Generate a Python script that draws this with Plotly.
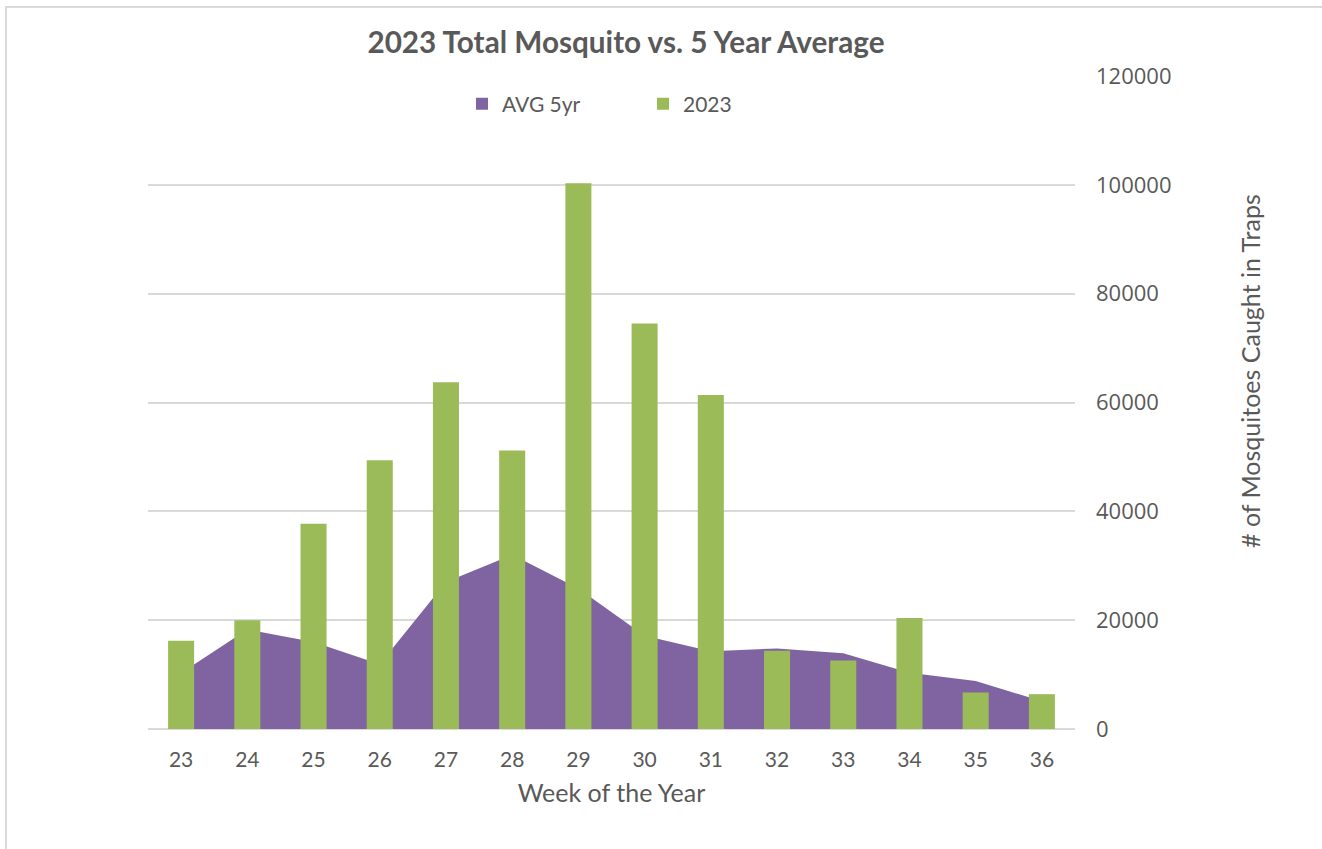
import plotly.graph_objects as go

weeks = ["23", "24", "25", "26", "27", "28", "29", "30", "31", "32", "33", "34", "35", "36"]
avg_5yr = [10300, 18300, 16000, 11900, 27000, 32000, 25800, 17150, 14300, 14800, 13900, 10350, 8800, 5100]
y_2023 = [16200, 20000, 37700, 49400, 63700, 51200, 100300, 74500, 61400, 14400, 12600, 20400, 6700, 6400]
y_ticks = [0, 20000, 40000, 60000, 80000, 100000, 120000]

PURPLE = "#8064A2"
GREEN = "#9BBB59"
TEXT = "#595959"
GRID = "#D9D9D9"
FONT = "Lato"

W, H = 1322, 849
L, R, T, B = 148, 1075, 76, 729


def px(x):
    return (x - L) / (R - L)


def py(y):
    return (B - y) / (B - T)


fig = go.Figure()
fig.add_trace(go.Scatter(
    x=weeks, y=avg_5yr, mode="lines", fill="tozeroy",
    line=dict(color=PURPLE, width=0), fillcolor=PURPLE,
    showlegend=False, zorder=0, hoverinfo="x+y", name="AVG 5yr"))
fig.add_trace(go.Bar(
    x=weeks, y=y_2023, marker=dict(color=GREEN, line=dict(width=0)),
    showlegend=False, zorder=1, name="2023"))
# legend entries
fig.add_trace(go.Scatter(x=[None], y=[None], mode="markers", name="AVG 5yr",
                         marker=dict(symbol="square", size=13, color=PURPLE)))
fig.add_trace(go.Scatter(x=[None], y=[None], mode="markers", name="2023",
                         marker=dict(symbol="square", size=13, color=GREEN)))

fig.update_layout(
    width=W, height=H,
    margin=dict(l=L, r=W - R, t=T, b=H - B),
    paper_bgcolor="white", plot_bgcolor="white",
    font=dict(family=FONT, color=TEXT, size=21),
    bargap=0.607,
    title=dict(text="<b>2023 Total Mosquito vs. 5 Year Average</b>",
               x=626 / W, xanchor="center", y=1 - 43 / H, yanchor="middle",
               font=dict(size=29.7, color=TEXT, family=FONT)),
    legend=dict(orientation="h", x=px(462), xanchor="left", y=py(104), yanchor="middle",
                entrywidth=136, entrywidthmode="pixels", itemsizing="constant",
                font=dict(size=21, color=TEXT), bgcolor="rgba(0,0,0,0)"),
    xaxis=dict(type="category", showgrid=False, showline=False, ticks="",
               tickfont=dict(size=21, color=TEXT), ticklabelstandoff=16,
               title=dict(text="Week of the Year", font=dict(size=25, color=TEXT), standoff=14)),
    yaxis=dict(side="right", range=[0, 120000], tickvals=y_ticks, tickformat="d",
               showgrid=True, gridcolor=GRID, gridwidth=2, zeroline=True,
               zerolinecolor=GRID, zerolinewidth=2, showline=False, ticks="",
               ticklabelstandoff=20,
               tickfont=dict(size=22, color=TEXT, family="Open Sans")),
    annotations=[dict(text="# of Mosquitoes Caught in Traps", textangle=-90,
                      xref="paper", yref="paper", x=px(1250), y=py(371),
                      xanchor="center", yanchor="middle", showarrow=False,
                      font=dict(size=25, color=TEXT, family=FONT))],
    shapes=[dict(type="rect", xref="paper", yref="paper",
                 x0=px(6), x1=px(1340), y0=py(870), y1=py(7),
                 line=dict(color="#D9D9D9", width=2), fillcolor="rgba(0,0,0,0)", layer="below")],
)

fig.write_html("out.html", config={"displayModeBar": False},
               post_script="document.body.style.margin='0px';")
